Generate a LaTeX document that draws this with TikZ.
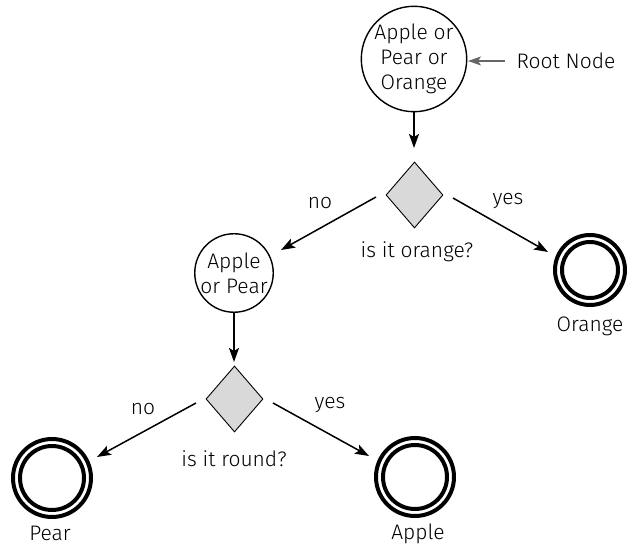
\documentclass[tikz,border=0pt]{standalone}
\usepackage{fontspec}
\setmainfont{Fira Sans}[UprightFont=* Light]
\usetikzlibrary{shapes.geometric,arrows.meta}
\tikzset{
  txt/.style={font=\fontsize{21}{25}\selectfont},
  state/.style={circle,draw,line width=1.4pt,minimum size=#1,inner sep=0pt,align=center,txt},
  ring/.style={circle,draw,line width=4pt,minimum size=#1,inner sep=0pt},
  test/.style={diamond,draw,fill=gray!30,line width=0.9pt,minimum width=57pt,minimum height=66pt,inner sep=0pt},
  lbl/.style={txt},
  edge/.style={-{Stealth[length=14pt,width=10pt,inset=3pt]},line width=1.5pt},
}
\begin{document}
\begin{tikzpicture}[x=1pt,y=-1pt]
\useasboundingbox (0,0) rectangle (627,545);
% root and its callout
\node[state=88pt] (root) at (414,59) {Apple or\\Pear or\\Orange};
\node[lbl] (rootlbl) at (566,61) {Root Node};
\coordinate (rl) at (505,61);
\coordinate (rr) at (468,61);
\draw[-{Stealth[length=13pt,width=9pt,inset=3pt]},line width=1.3pt,gray!80!black] (rl) -- (rr);
% first test
\node[test] (q1) at (414.5,195) {};
\node[lbl] (q1t) at (417,252) {is it orange?};
\coordinate (r1) at (414,148);
\draw[edge] (root) -- (r1);
% second level
\node[state=78pt] (ap) at (234,273) {Apple\\or Pear};
\node[ring=70pt] (or) at (590,270) {};
\node[ring=56pt] (or2) at (590,270) {};
\node[lbl] (ort) at (590,326) {Orange};
\coordinate (n1a) at (376,197); \coordinate (n1b) at (281,250);
\coordinate (y1a) at (453,198); \coordinate (y1b) at (548,252);
\draw[edge] (n1a) -- (n1b);
\draw[edge] (y1a) -- (y1b);
\node[lbl] at (320,203) {no};
\node[lbl] at (508,201) {yes};
% second test
\node[test] (q2) at (234.5,399) {};
\node[lbl] (q2t) at (234,459) {is it round?};
\coordinate (r2) at (234,362);
\draw[edge] (ap) -- (r2);
% leaves
\node[ring=78pt] (pear) at (52,478) {};
\node[ring=64pt] (pear2) at (52,478) {};
\node[lbl,anchor=base,inner ysep=0pt] (peart) at (50,540) {Pear};
\node[ring=78pt] (apple) at (415,477) {};
\node[ring=64pt] (apple2) at (415,477) {};
\node[lbl,anchor=base,inner ysep=0pt] (applet) at (418,539) {Apple};
\coordinate (n2a) at (196,403); \coordinate (n2b) at (97,457);
\coordinate (y2a) at (273,403); \coordinate (y2b) at (369,456);
\draw[edge] (n2a) -- (n2b);
\draw[edge] (y2a) -- (y2b);
\node[lbl] at (143,409) {no};
\node[lbl] at (330,405) {yes};
\end{tikzpicture}
\end{document}
